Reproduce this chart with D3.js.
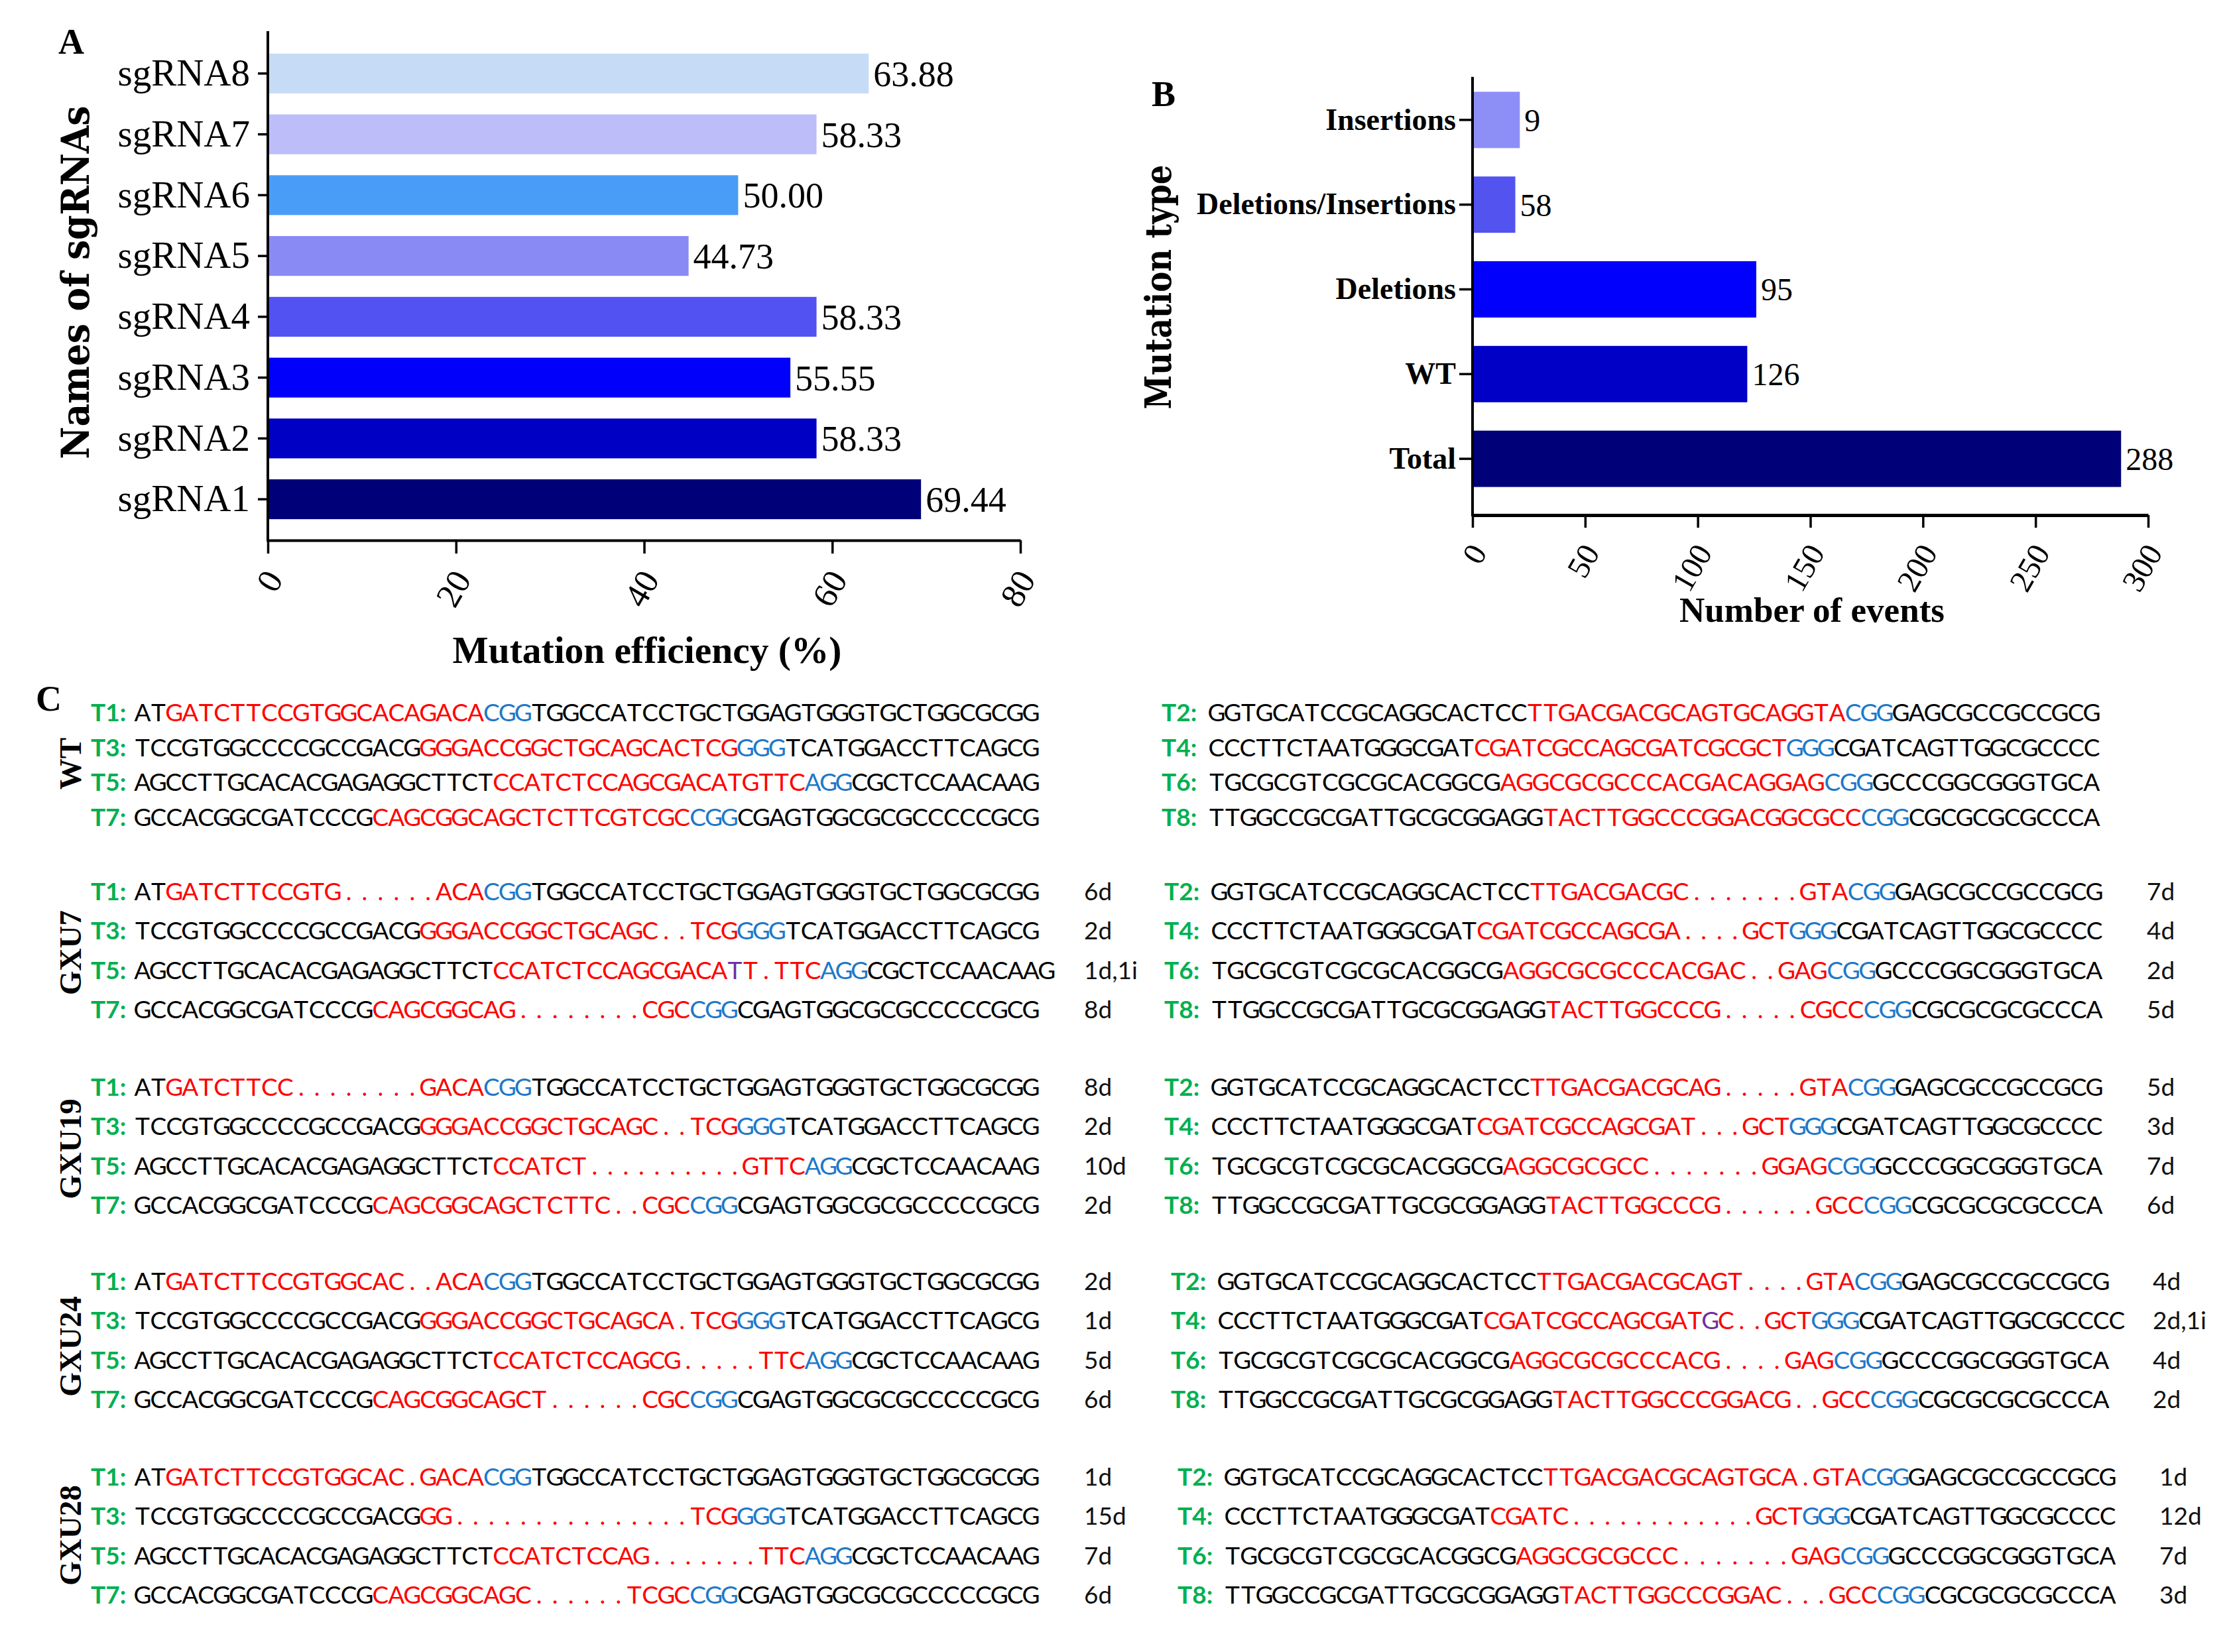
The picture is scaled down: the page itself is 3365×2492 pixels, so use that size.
<!DOCTYPE html>
<meta charset="utf-8">
<head>
	<title>sgRNA mutation efficiency</title>
</head>

<style>
body{
	margin: 0;
	background: #fff;
}
svg{
	display: block;
}
.serif{
	font-family: "Liberation Serif", "Times New Roman", serif;
}
.seq{
	font-family: Lato, "Open Sans", sans-serif;
	font-size: 37px;
}
</style>

<body>
<svg id="fig" width="3365" height="2492"></svg>

<script src="https://cdnjs.cloudflare.com/ajax/libs/d3/7.8.5/d3.min.js"></script>
<script>

// A: mutation efficiency per sgRNA
var sgNames = ['sgRNA8', 'sgRNA7', 'sgRNA6', 'sgRNA5', 'sgRNA4', 'sgRNA3', 'sgRNA2', 'sgRNA1'];
var sgEff = [63.88, 58.33, 50.00, 44.73, 58.33, 55.55, 58.33, 69.44];
var sgLabels = ['63.88', '58.33', '50.00', '44.73', '58.33', '55.55', '58.33', '69.44'];
var sgColors = ['#c6dbf5', '#bdbdfa', '#4a9df6', '#8a8af5', '#5252f2', '#0000fb', '#0000c4', '#000078'];
var effTicks = [0, 20, 40, 60, 80];

// B: mutation types (bar lengths as drawn, printed numbers as written)
var mutTypes = ['Insertions', 'Deletions/Insertions', 'Deletions', 'WT', 'Total'];
var mutBars = [21, 19, 126, 122, 288];
var mutLabels = ['9', '58', '95', '126', '288'];
var mutColors = ['#8e8ef7', '#5353ef', '#0000fc', '#0000c6', '#000078'];
var eventTicks = [0, 50, 100, 150, 200, 250, 300];

// C: target sequences
var lines = ['WT', 'GXU7', 'GXU19', 'GXU24', 'GXU28'];
var targets = ['T1', 'T3', 'T5', 'T7', 'T2', 'T4', 'T6', 'T8'];
var flank5 = ['AT', 'TCCGTGGCCCCGCCGACG', 'AGCCTTGCACACGAGAGGCTTCT', 'GCCACGGCGATCCCG',
	'GGTGCATCCGCAGGCACTCC', 'CCCTTCTAATGGGCGAT', 'TGCGCGTCGCGCACGGCG', 'TTGGCCGCGATTGCGCGGAGG'];
var spacers = ['GATCTTCCGTGGCACAGACA', 'GGGACCGGCTGCAGCACTCG', 'CCATCTCCAGCGACATGTTC', 'CAGCGGCAGCTCTTCGTCGC',
	'TTGACGACGCAGTGCAGGTA', 'CGATCGCCAGCGATCGCGCT', 'AGGCGCGCCCACGACAGGAG', 'TACTTGGCCCGGACGGCGCC'];
var pams = ['CGG', 'GGG', 'AGG', 'CGG', 'CGG', 'GGG', 'CGG', 'CGG'];
var flank3 = ['TGGCCATCCTGCTGGAGTGGGTGCTGGCGCGG', 'TCATGGACCTTCAGCG', 'CGCTCCAACAAG', 'CGAGTGGCGCGCCCCCGCG',
	'GAGCGCCGCCGCG', 'CGATCAGTTGGCGCCCC', 'GCCCGGCGGGTGCA', 'CGCGCGCGCCCA'];

// '.' = deleted base, '*' = next base is an insertion
var gxu7Sites = ['GATCTTCCGTG......ACA', 'GGGACCGGCTGCAGC..TCG', 'CCATCTCCAGCGACA*TT.TTC', 'CAGCGGCAG........CGC',
	'TTGACGACGC.......GTA', 'CGATCGCCAGCGA....GCT', 'AGGCGCGCCCACGAC..GAG', 'TACTTGGCCCG.....CGCC'];
var gxu7Counts = ['6d', '2d', '1d,1i', '8d', '7d', '4d', '2d', '5d'];
var gxu19Sites = ['GATCTTCC........GACA', 'GGGACCGGCTGCAGC..TCG', 'CCATCT..........GTTC', 'CAGCGGCAGCTCTTC..CGC',
	'TTGACGACGCAG.....GTA', 'CGATCGCCAGCGAT...GCT', 'AGGCGCGCC.......GGAG', 'TACTTGGCCCG......GCC'];
var gxu19Counts = ['8d', '2d', '10d', '2d', '5d', '3d', '7d', '6d'];
var gxu24Sites = ['GATCTTCCGTGGCAC..ACA', 'GGGACCGGCTGCAGCA.TCG', 'CCATCTCCAGCG.....TTC', 'CAGCGGCAGCT......CGC',
	'TTGACGACGCAGT....GTA', 'CGATCGCCAGCGAT*GC..GCT', 'AGGCGCGCCCACG....GAG', 'TACTTGGCCCGGACG..GCC'];
var gxu24Counts = ['2d', '1d', '5d', '6d', '4d', '2d,1i', '4d', '2d'];
var gxu28Sites = ['GATCTTCCGTGGCAC.GACA', 'GG...............TCG', 'CCATCTCCAG.......TTC', 'CAGCGGCAGC......TCGC',
	'TTGACGACGCAGTGCA.GTA', 'CGATC............GCT', 'AGGCGCGCCC.......GAG', 'TACTTGGCCCGGAC...GCC'];
var gxu28Counts = ['1d', '15d', '7d', '6d', '1d', '12d', '7d', '3d'];

var lineSites = [spacers, gxu7Sites, gxu19Sites, gxu24Sites, gxu28Sites];
var lineCounts = [null, gxu7Counts, gxu19Counts, gxu24Counts, gxu28Counts];

var svg = d3.select('#fig');
svg.append('rect').attr('width', 3365).attr('height', 2492).attr('fill', '#fff');

function styleAxis(g, size, weight) {
	g.attr('font-family', '"Liberation Serif", serif')
		.attr('font-size', size)
		.attr('font-weight', weight || 'normal');
	g.selectAll('line').attr('stroke', '#000').attr('stroke-width', 3.5);
	g.selectAll('text').attr('fill', '#000');
}

// ---------- A ----------
var xA = d3.scaleLinear().domain([0, 80]).range([404, 1539]);
var yA = d3.scaleBand().domain(sgNames).range([65, 799]).paddingInner(0.345).paddingOuter(0.1725);
var gA = svg.append('g');

gA.selectAll('rect.bar')
	.data(sgNames)
	.join('rect')
	.attr('class', 'bar')
	.attr('x', xA(0))
	.attr('y', function(d) { return yA(d); })
	.attr('width', function(d, i) { return xA(sgEff[i]) - xA(0); })
	.attr('height', yA.bandwidth())
	.attr('fill', function(d, i) { return sgColors[i]; });

gA.selectAll('text.val')
	.data(sgNames)
	.join('text')
	.attr('class', 'val serif')
	.attr('x', function(d, i) { return xA(sgEff[i]) + 7; })
	.attr('y', function(d) { return yA(d) + yA.bandwidth() / 2; })
	.attr('dy', '0.35em')
	.attr('font-size', 54)
	.text(function(d, i) { return sgLabels[i]; });

var ayA = gA.append('g')
	.attr('transform', 'translate(' + xA(0) + ',0)')
	.call(d3.axisLeft(yA).tickSize(15).tickPadding(12).tickSizeOuter(0));
ayA.select('.domain').remove();
styleAxis(ayA, 57);

gA.append('line')
	.attr('x1', xA(0)).attr('x2', xA(0))
	.attr('y1', 47).attr('y2', 817)
	.attr('stroke', '#000').attr('stroke-width', 4);

var axA = gA.append('g')
	.attr('transform', 'translate(0,815)')
	.call(d3.axisBottom(xA).tickValues(effTicks).tickSize(20).tickSizeOuter(0));
axA.select('.domain').attr('stroke', '#000').attr('stroke-width', 4);
styleAxis(axA, 52);
axA.selectAll('text')
	.attr('y', 0).attr('dy', '0.35em')
	.attr('text-anchor', 'end')
	.attr('transform', 'translate(8,50) rotate(-60)');

gA.append('text').attr('class', 'serif')
	.attr('x', 976).attr('y', 1000)
	.attr('text-anchor', 'middle')
	.attr('font-size', 56).attr('font-weight', 'bold')
	.attr('textLength', 587).attr('lengthAdjust', 'spacingAndGlyphs')
	.text('Mutation efficiency (%)');

gA.append('text')
	.attr('transform', 'translate(134,426) rotate(-90)')
	.attr('text-anchor', 'middle')
	.attr('font-family', '"DejaVu Serif", serif')
	.attr('font-size', 58).attr('font-weight', 'bold')
	.attr('textLength', 533).attr('lengthAdjust', 'spacingAndGlyphs')
	.text('Names of sgRNAs');

// ---------- B ----------
var xB = d3.scaleLinear().domain([0, 300]).range([2221, 3240]);
var yB = d3.scaleBand().domain(mutTypes).range([117, 756]).paddingInner(0.335).paddingOuter(0.1675);
var gB = svg.append('g');

gB.selectAll('rect.bar')
	.data(mutTypes)
	.join('rect')
	.attr('class', 'bar')
	.attr('x', xB(0))
	.attr('y', function(d) { return yB(d); })
	.attr('width', function(d, i) { return xB(mutBars[i]) - xB(0); })
	.attr('height', yB.bandwidth())
	.attr('fill', function(d, i) { return mutColors[i]; });

gB.selectAll('text.val')
	.data(mutTypes)
	.join('text')
	.attr('class', 'val serif')
	.attr('x', function(d, i) { return xB(mutBars[i]) + 7; })
	.attr('y', function(d) { return yB(d) + yB.bandwidth() / 2; })
	.attr('dy', '0.35em')
	.attr('font-size', 48)
	.text(function(d, i) { return mutLabels[i]; });

var ayB = gB.append('g')
	.attr('transform', 'translate(' + xB(0) + ',0)')
	.call(d3.axisLeft(yB).tickSize(20).tickPadding(5).tickSizeOuter(0));
ayB.select('.domain').remove();
styleAxis(ayB, 46, 'bold');

gB.append('line')
	.attr('x1', xB(0)).attr('x2', xB(0))
	.attr('y1', 116).attr('y2', 779)
	.attr('stroke', '#000').attr('stroke-width', 4);

var axB = gB.append('g')
	.attr('transform', 'translate(0,777)')
	.call(d3.axisBottom(xB).tickValues(eventTicks).tickSize(19).tickSizeOuter(0));
axB.select('.domain').attr('stroke', '#000').attr('stroke-width', 5);
styleAxis(axB, 48);
axB.selectAll('text')
	.attr('y', 0).attr('dy', '0.35em')
	.attr('text-anchor', 'end')
	.attr('transform', 'translate(8,48) rotate(-60)');

gB.append('text').attr('class', 'serif')
	.attr('x', 2733).attr('y', 938)
	.attr('text-anchor', 'middle')
	.attr('font-size', 52).attr('font-weight', 'bold')
	.attr('textLength', 400).attr('lengthAdjust', 'spacingAndGlyphs')
	.text('Number of events');

gB.append('text')
	.attr('transform', 'translate(1766,433) rotate(-90)')
	.attr('text-anchor', 'middle')
	.attr('font-family', '"DejaVu Serif", serif')
	.attr('font-size', 54).attr('font-weight', 'bold')
	.attr('textLength', 369).attr('lengthAdjust', 'spacingAndGlyphs')
	.text('Mutation type');

// panel letters
var letters = [['A', 88, 81], ['B', 1737, 160], ['C', 54, 1072]];
svg.selectAll('text.panel')
	.data(letters)
	.join('text')
	.attr('class', 'panel serif')
	.attr('x', function(d) { return d[1]; })
	.attr('y', function(d) { return d[2]; })
	.attr('font-size', 54).attr('font-weight', 'bold')
	.text(function(d) { return d[0]; });

// ---------- C ----------
var firstBase = [1088, 1358, 1653, 1946, 2241];
var rightShift = [0, 4, 4, 14, 24];
var groupMid = [1152, 1437, 1733, 2031, 2316];
var colX = [{lab: 137, seq: 203, w: 1364, cnt: 1635}, {lab: 1752, seq: 1823, w: 1344, cnt: 3238}];

function siteChars(site) {
	var out = [], purple = false;
	for (var k = 0; k < site.length; k++) {
		var c = site[k];
		if (c === '*') { purple = true; continue; }
		out.push({c: c, fill: purple ? '#7030a0' : '#ff0000'});
		purple = false;
	}
	return out;
}

var gC = svg.append('g');

lines.forEach(function(line, li) {
	var gap = li === 0 ? 52.7 : 59.3;

	gC.append('text').attr('class', 'serif')
		.attr('transform', 'translate(122,' + groupMid[li] + ') rotate(-90)')
		.attr('text-anchor', 'middle')
		.attr('font-size', 47).attr('font-weight', 'bold')
		.text(line);

	targets.forEach(function(t, ti) {
		var col = colX[ti < 4 ? 0 : 1];
		var shift = ti < 4 ? 0 : rightShift[li];
		var yb = firstBase[li] + (ti % 4) * gap;
		var nWT = flank5[ti].length + 20 + pams[ti].length + flank3[ti].length;
		var xs = d3.scaleLinear().domain([0, nWT]).range([col.seq + shift, col.seq + shift + col.w]);

		var chars = [];
		flank5[ti].split('').forEach(function(c) { chars.push({c: c, fill: '#000'}); });
		siteChars(lineSites[li][ti]).forEach(function(o) { chars.push(o); });
		pams[ti].split('').forEach(function(c) { chars.push({c: c, fill: '#1f78c8'}); });
		flank3[ti].split('').forEach(function(c) { chars.push({c: c, fill: '#000'}); });

		var row = gC.append('g');
		row.append('text').attr('class', 'seq')
			.attr('x', col.lab + shift).attr('y', yb)
			.attr('fill', '#00b050').attr('font-weight', 'bold')
			.text(t + ':');

		row.append('text').attr('class', 'seq')
			.attr('y', yb)
			.selectAll('tspan')
			.data(chars)
			.join('tspan')
			.attr('x', function(d, i) { return xs(i + 0.5); })
			.attr('text-anchor', 'middle')
			.attr('fill', function(d) { return d.fill; })
			.text(function(d) { return d.c; });

		if (lineCounts[li]) {
			row.append('text').attr('class', 'seq')
				.attr('x', col.cnt + (ti < 4 ? 0 : Math.max(0, shift - 5)))
				.attr('y', yb)
				.attr('fill', '#111')
				.text(lineCounts[li][ti]);
		}
	});
});

</script>
</body>
</html>
